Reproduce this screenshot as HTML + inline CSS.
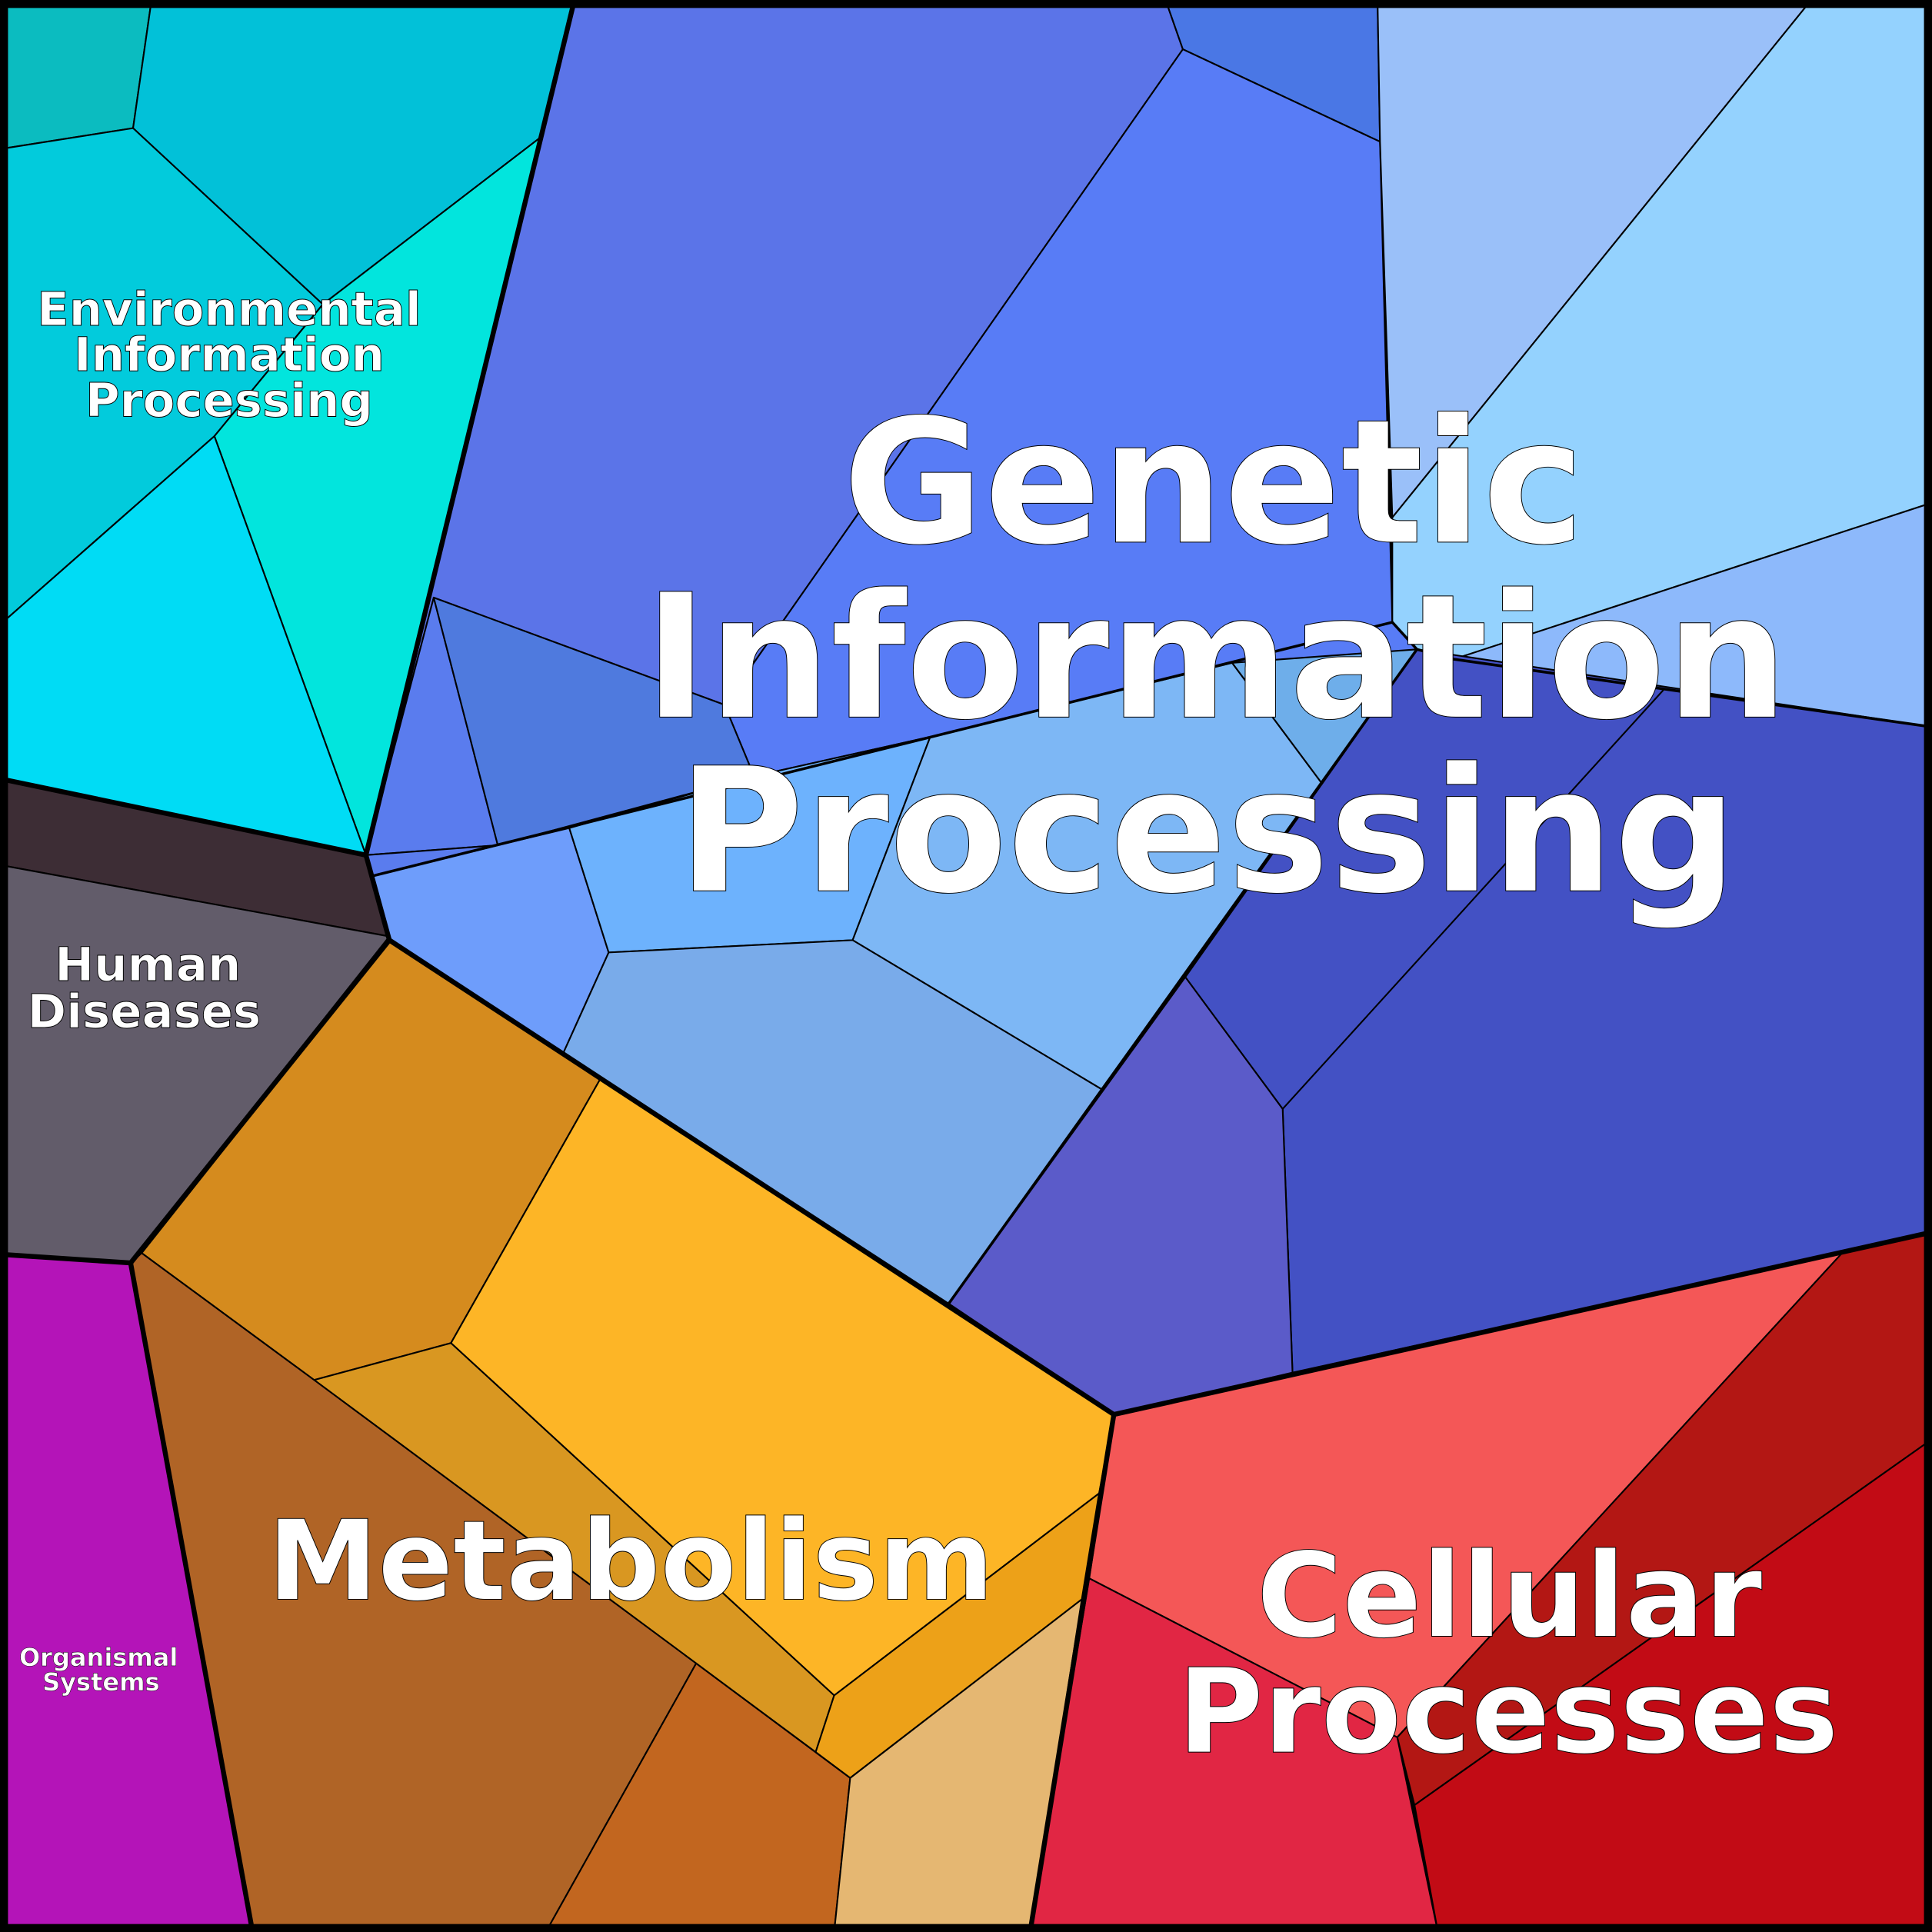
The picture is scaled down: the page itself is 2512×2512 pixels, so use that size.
<!DOCTYPE html>
<html><head><meta charset="utf-8"><style>html,body{margin:0;padding:0;background:#000}svg{display:block}</style></head>
<body>
<svg width="2512" height="2512" viewBox="0 0 1568 1568" xmlns="http://www.w3.org/2000/svg">
<g stroke="#000" stroke-width="1.3" stroke-linejoin="round">
<!-- Environmental -->
<polygon fill="#0bbcc0" points="0,0 123,0 108,104 0,121"/>
<polygon fill="#02c1d8" points="123,0 465,0 438,112 262,247 108,104"/>
<polygon fill="#02cbdc" points="0,121 108,104 262,247 174,354 0,507"/>
<polygon fill="#02e5dd" points="438,112 297,694 174,354 262,247"/>
<polygon fill="#00dcf5" points="0,507 174,354 297,694 0,632"/>
<!-- Human diseases -->
<polygon fill="#3d2d35" points="0,632 297,694 316,760 0,702"/>
<polygon fill="#625c6a" points="0,702 316,760 106,1025 0,1018"/>
<!-- Organismal -->
<polygon fill="#b414b8" points="0,1018 106,1025 205,1568 0,1568"/>
<!-- Metabolism -->
<polygon fill="#d58b1e" points="316,763 487,876 366,1090 255,1120 115,1017"/>
<polygon fill="#fdb526" points="487,876 904,1148 892,1212 677,1376 366,1090"/>
<polygon fill="#d99721" points="255,1120 366,1090 677,1376 662,1422"/>
<polygon fill="#eda118" points="677,1376 892,1212 878,1298 690,1443 662,1422"/>
<polygon fill="#b06426" points="106,1025 115,1017 255,1120 565,1350 443,1568 205,1568"/>
<polygon fill="#c2661f" points="565,1350 690,1443 677,1568 443,1568"/>
<polygon fill="#e5b772" points="690,1443 878,1298 836,1568 677,1568"/>
<!-- Cellular -->
<polygon fill="#f45757" points="904,1148 1049,1114 1495,1017 1134,1410 884,1281"/>
<polygon fill="#b31714" points="1495,1017 1568,1000 1568,1168 1148,1465 1134,1410"/>
<polygon fill="#c20b15" points="1148,1465 1568,1168 1568,1568 1167,1568"/>
<polygon fill="#e12644" points="884,1281 1134,1410 1167,1568 836,1568"/>
<!-- Genetic -->
<polygon fill="#5b74e8" points="465,0 946,0 960,40 588,572 352,485 297,694"/>
<polygon fill="#5a7cee" points="352,485 404,686 297,694"/>
<polygon fill="#5a7cee" points="297,694 404,686 302,711"/>
<polygon fill="#4a77e5" points="946,0 1118,0 1120,115 960,40"/>
<polygon fill="#587cf6" points="960,40 1120,115 1130,505 1150,527 755,598 612,630 588,572"/>
<polygon fill="#9ac0f9" points="1118,0 1470,0 1130,420 1120,115"/>
<polygon fill="#94d2fe" points="1470,0 1568,0 1568,408 1180,535 1150,527 1130,505 1130,420"/>
<polygon fill="#8db9fb" points="1180,535 1568,408 1568,590"/>
<polygon fill="#4351c4" points="1150,527 1568,590 1568,1000 1049,1114 1041,900 962,793 1073,636"/>
<polygon fill="#5b5bc9" points="962,793 1041,900 1049,1114 904,1148 770,1058"/>
<polygon fill="#4f7ade" points="352,485 588,572 612,630 404,686"/>
<polygon fill="#6e9dfb" points="302,711 404,686 462,672 494,773 457,855 316,763"/>
<polygon fill="#6db2fd" points="462,672 612,630 755,598 692,763 494,773"/>
<polygon fill="#7db7f5" points="755,598 1000,538 1073,636 894,884 692,763"/>
<polygon fill="#6eaeea" points="1000,538 1150,527 1073,636"/>
<polygon fill="#79abea" points="457,855 494,773 692,763 894,884 770,1058"/>
<line x1="1041" y1="900" x2="1350" y2="560"/>
</g>
<g fill="none" stroke="#000" stroke-width="4" stroke-linejoin="round">
<polyline points="465,5 297,694 0,632"/>
<polyline points="297,694 316,763 106,1025 0,1018"/>
<polyline points="106,1025 205,1568"/>
<polyline points="316,763 904,1148 836,1568"/>
<polyline points="904,1148 1568,1000"/>
<polyline points="302,711 1130,505 1150,527 1180,535 1568,590" stroke-width="2.2"/>
<polyline points="1150,527 770,1058" stroke-width="2.2"/>
<rect x="3" y="3" width="1562" height="1562" stroke-width="7"/>
</g>
<g font-family="'DejaVu Sans','Liberation Sans',sans-serif" font-weight="bold" fill="#fff" stroke="#000" stroke-width="0.6" text-anchor="middle">
<text font-size="140" x="985" y="440">Genetic</text>
<text font-size="140" x="987" y="582">Information</text>
<text font-size="140" x="980" y="723">Processing</text>
<text font-size="90" x="512" y="1298">Metabolism</text>
<text font-size="95" x="1225" y="1328">Cellular</text>
<text font-size="95" x="1224" y="1422">Processes</text>
<text font-size="38" x="186" y="264">Environmental</text>
<text font-size="38" x="186" y="301">Information</text>
<text font-size="38" x="186" y="338">Processing</text>
<text font-size="38" x="120" y="796">Human</text>
<text font-size="38" x="117" y="834">Diseases</text>
<text font-size="20" x="80" y="1352" stroke-width="0.3">Organismal</text>
<text font-size="20" x="82" y="1372" stroke-width="0.3">Systems</text>
</g>
</svg>
</body></html>
